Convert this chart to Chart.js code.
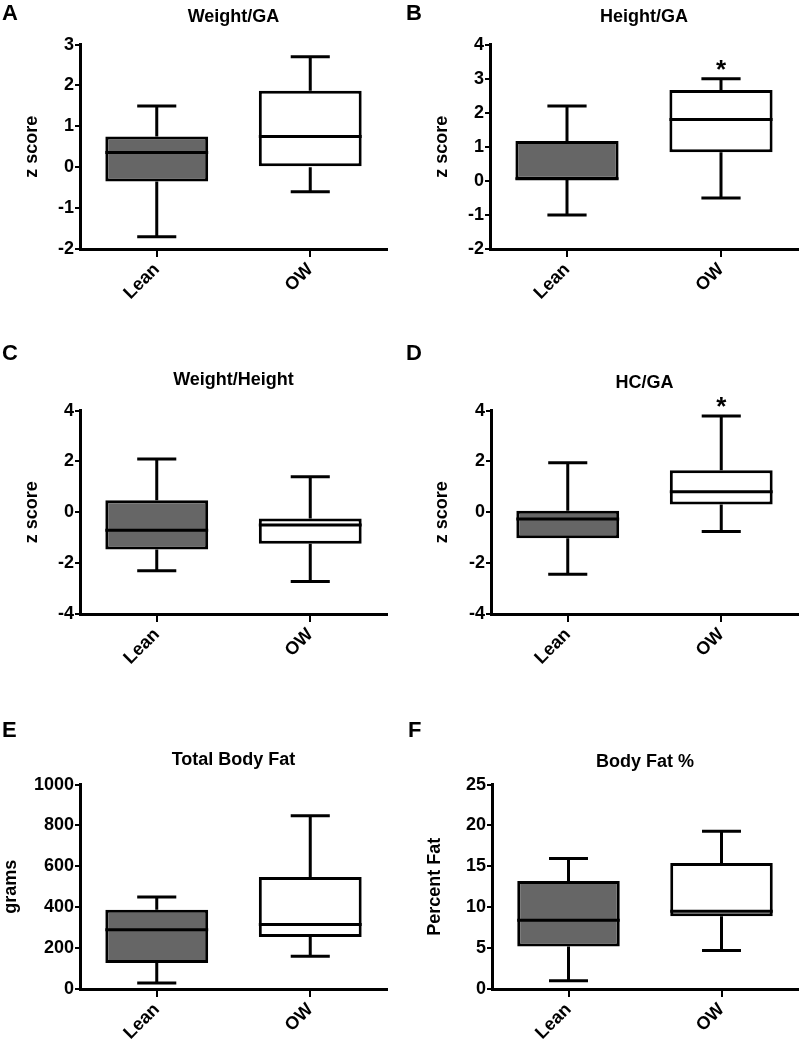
<!DOCTYPE html>
<html>
<head>
<meta charset="utf-8">
<script src="https://cdn.jsdelivr.net/npm/chart.js@4.4.1/dist/chart.umd.min.js"></script>
<style>
body { margin: 0; background: #fff; }
#fig { position: relative; width: 800px; height: 1040px; overflow: hidden; }
canvas { position: absolute; }
.lbl { position: absolute; font: bold 22px "Liberation Sans", Arial, sans-serif; line-height: 22px; }
</style>
</head>
<body>
<div id="fig">
  <canvas id="cA" width="400" height="330" style="left:0;top:0"></canvas>
  <canvas id="cB" width="400" height="330" style="left:400px;top:0"></canvas>
  <canvas id="cC" width="400" height="350" style="left:0;top:340px"></canvas>
  <canvas id="cD" width="400" height="350" style="left:400px;top:340px"></canvas>
  <canvas id="cE" width="400" height="340" style="left:0;top:700px"></canvas>
  <canvas id="cF" width="400" height="340" style="left:400px;top:700px"></canvas>
  <div class="lbl" style="left:2px;top:2px">A</div>
  <div class="lbl" style="left:406px;top:2px">B</div>
  <div class="lbl" style="left:2px;top:342px">C</div>
  <div class="lbl" style="left:406px;top:342px">D</div>
  <div class="lbl" style="left:2px;top:719px">E</div>
  <div class="lbl" style="left:408px;top:719px">F</div>
</div>
<script>
const groups = ['Lean', 'OW'];
const fills = ['#666666', '#ffffff'];

// each group: [min, q1, median, q3, max]
const weightGA = [[-1.7, -0.35, 0.36, 0.75, 1.5], [-0.6, 0.0, 0.75, 1.87, 2.7]];
const heightGA = [[-1.0, 0.03, 0.06, 1.17, 2.2], [-0.5, 0.84, 1.8, 2.67, 3.0]];
const weightHeight = [[-2.3, -1.46, -0.71, 0.47, 2.1], [-2.72, -1.24, -0.5, -0.24, 1.4]];
const hcGA = [[-2.44, -1.02, -0.26, 0.06, 1.95], [-0.76, 0.31, 0.81, 1.65, 3.79]];
const totalFat = [[29, 127, 290, 388, 450], [160, 255, 315, 548, 848]];
const fatPct = [[1.0, 5.2, 8.4, 13.2, 15.95], [4.7, 8.9, 9.5, 15.4, 19.3]];

// significance marks
const heightGAStars = ['', '*'];
const hcGAStars = ['', '*'];

// y axis [min, max, step]
const zTicksA = [-2, 3, 1];
const zTicksB = [-2, 4, 1];
const zTicksCD = [-4, 4, 2];
const gramsTicks = [0, 1000, 200];
const pctTicks = [0, 25, 5];

Chart.defaults.font.family = '"Liberation Sans", Arial, sans-serif';
Chart.defaults.font.weight = 'bold';
Chart.defaults.color = '#000';

const boxPlugin = {
    id: 'boxWhisker',
    afterDatasetsDraw(chart, args, opts) {
        const ctx = chart.ctx;
        const y = chart.scales.y;
        const meta = chart.getDatasetMeta(0);
        ctx.save();
        ctx.strokeStyle = '#000';
        ctx.fillStyle = '#000';
        ctx.lineWidth = 3;
        meta.data.forEach((bar, i) => {
            const [lo, q1, med, q3, hi] = opts.stats[i];
            const x = bar.x;
            const half = bar.width / 2;
            const cap = bar.width * 0.19;
            const pHi = y.getPixelForValue(hi);
            const pLo = y.getPixelForValue(lo);
            ctx.beginPath();
            ctx.moveTo(x, y.getPixelForValue(q3));
            ctx.lineTo(x, pHi);
            ctx.moveTo(x - cap, pHi);
            ctx.lineTo(x + cap, pHi);
            ctx.moveTo(x, y.getPixelForValue(q1));
            ctx.lineTo(x, pLo);
            ctx.moveTo(x - cap, pLo);
            ctx.lineTo(x + cap, pLo);
            ctx.moveTo(x - half, y.getPixelForValue(med));
            ctx.lineTo(x + half, y.getPixelForValue(med));
            ctx.stroke();
            if (opts.stars && opts.stars[i]) {
                ctx.font = 'bold 26px "Liberation Sans", Arial, sans-serif';
                ctx.textAlign = 'center';
                ctx.textBaseline = 'alphabetic';
                ctx.fillText(opts.stars[i], x, pHi - 1);
            }
        });
        ctx.restore();
    }
};

function makePanel(id, title, yTitle, stats, ticks, stars, geo) {
    new Chart(document.getElementById(id), {
        type: 'bar',
        data: {
            labels: groups,
            datasets: [{
                data: stats.map(s => [s[1], s[3]]),
                backgroundColor: fills,
                borderColor: '#000',
                borderWidth: 3,
                borderSkipped: false,
                categoryPercentage: 1,
                barPercentage: 0.67
            }]
        },
        options: {
            responsive: false,
            animation: false,
            layout: { padding: { left: 0, right: geo.padRight, top: 0, bottom: 0 } },
            plugins: {
                legend: { display: false },
                tooltip: { enabled: false },
                title: {
                    display: true,
                    text: title,
                    fullSize: false,
                    font: { size: 18, weight: 'bold' },
                    padding: { top: geo.titleTop, bottom: geo.titleBottom }
                },
                boxWhisker: { stats: stats, stars: stars }
            },
            scales: {
                x: {
                    offset: true,
                    afterFit: s => { s.height = geo.xHeight; },
                    grid: { offset: false, drawOnChartArea: false, drawTicks: true, tickLength: 8, color: '#000', lineWidth: 2 },
                    border: { display: true, color: '#000', width: 3 },
                    ticks: { font: { size: 18 }, minRotation: 45, maxRotation: 45, autoSkip: false, padding: 2 }
                },
                y: {
                    min: ticks[0],
                    max: ticks[1],
                    afterFit: s => { s.width = geo.yWidth; },
                    grid: { drawOnChartArea: false, drawTicks: true, tickLength: 5, color: '#000', lineWidth: 2 },
                    border: { display: true, color: '#000', width: 3 },
                    ticks: { stepSize: ticks[2], font: { size: 18 }, padding: 1, callback: v => String(v) },
                    title: { display: true, text: yTitle, font: { size: 18, weight: 'bold' }, padding: { top: geo.yTitlePad, bottom: 0 } }
                }
            }
        },
        plugins: [boxPlugin]
    });
}

makePanel('cA', 'Weight/GA', 'z score', weightGA, zTicksA, null,
    { titleTop: 6, titleBottom: 17, yTitlePad: 21, yWidth: 80, xHeight: 81, padRight: 13 });
makePanel('cB', 'Height/GA', 'z score', heightGA, zTicksB, heightGAStars,
    { titleTop: 6, titleBottom: 17, yTitlePad: 31, yWidth: 90, xHeight: 81, padRight: 2 });
makePanel('cC', 'Weight/Height', 'z score', weightHeight, zTicksCD, null,
    { titleTop: 29, titleBottom: 20, yTitlePad: 21, yWidth: 80, xHeight: 76, padRight: 13 });
makePanel('cD', 'HC/GA', 'z score', hcGA, zTicksCD, hcGAStars,
    { titleTop: 32, titleBottom: 17, yTitlePad: 31, yWidth: 91, xHeight: 76, padRight: 2 });
makePanel('cE', 'Total Body Fat', 'grams', totalFat, gramsTicks, null,
    { titleTop: 49, titleBottom: 14, yTitlePad: 0, yWidth: 80, xHeight: 51, padRight: 13 });
makePanel('cF', 'Body Fat %', 'Percent Fat', fatPct, pctTicks, null,
    { titleTop: 51, titleBottom: 12, yTitlePad: 24, yWidth: 92, xHeight: 51, padRight: 2 });
</script>
</body>
</html>
